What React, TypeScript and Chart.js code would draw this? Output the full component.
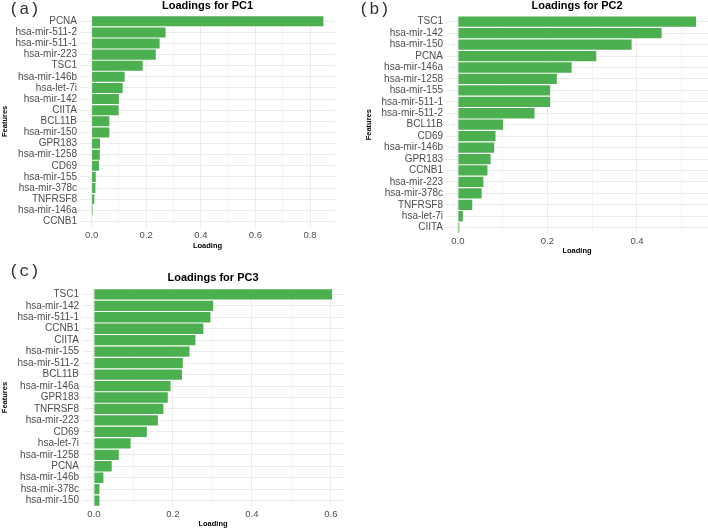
import React, { useEffect, useRef } from "react";
import { Chart, registerables } from "chart.js";

Chart.register(...registerables);
Chart.defaults.font.family = '"Liberation Sans", Arial, sans-serif';

const PC1_FEATURES = ["PCNA", "hsa-mir-511-2", "hsa-mir-511-1", "hsa-mir-223", "TSC1", "hsa-mir-146b", "hsa-let-7i", "hsa-mir-142", "CIITA", "BCL11B", "hsa-mir-150", "GPR183", "hsa-mir-1258", "CD69", "hsa-mir-155", "hsa-mir-378c", "TNFRSF8", "hsa-mir-146a", "CCNB1"];
const PC1_LOADINGS = [0.849, 0.271, 0.249, 0.235, 0.187, 0.121, 0.114, 0.1, 0.099, 0.065, 0.065, 0.031, 0.03, 0.027, 0.015, 0.014, 0.01, 0.004, 0.002];

const PC2_FEATURES = ["TSC1", "hsa-mir-142", "hsa-mir-150", "PCNA", "hsa-mir-146a", "hsa-mir-1258", "hsa-mir-155", "hsa-mir-511-1", "hsa-mir-511-2", "BCL11B", "CD69", "hsa-mir-146b", "GPR183", "CCNB1", "hsa-mir-223", "hsa-mir-378c", "TNFRSF8", "hsa-let-7i", "CIITA"];
const PC2_LOADINGS = [0.532, 0.455, 0.388, 0.309, 0.254, 0.221, 0.206, 0.206, 0.171, 0.101, 0.084, 0.081, 0.073, 0.066, 0.057, 0.053, 0.032, 0.011, 0.003];

const PC3_FEATURES = ["TSC1", "hsa-mir-142", "hsa-mir-511-1", "CCNB1", "CIITA", "hsa-mir-155", "hsa-mir-511-2", "BCL11B", "hsa-mir-146a", "GPR183", "TNFRSF8", "hsa-mir-223", "CD69", "hsa-let-7i", "hsa-mir-1258", "PCNA", "hsa-mir-146b", "hsa-mir-378c", "hsa-mir-150"];
const PC3_LOADINGS = [0.603, 0.302, 0.295, 0.277, 0.257, 0.242, 0.225, 0.223, 0.194, 0.187, 0.176, 0.162, 0.134, 0.093, 0.063, 0.045, 0.024, 0.014, 0.014];

const X_TICK_STEP = 0.1;
const X_LABEL_STEP = 0.2;

const isMajor = (v: number) => {
  const r = v / X_LABEL_STEP;
  return Math.abs(r - Math.round(r)) < 1e-6;
};

type PanelProps = {
  features: string[];
  loadings: number[];
  title: string;
  letter: string;
  left: number;
  top: number;
  width: number;
  height: number;
  yWidth: number;
  xHeight: number;
  padRight: number;
  titlePadTop: number;
  titlePadBottom: number;
  featuresPad: number;
  loadingPad: number;
  tickPad: number;
  letterLeft: number;
  letterTop: number;
};

function Panel(p: PanelProps) {
  const ref = useRef<HTMLCanvasElement | null>(null);
  useEffect(() => {
    if (!ref.current) return;
    const maxV = Math.max(...p.loadings);
    const chart = new Chart(ref.current, {
      type: "bar",
      data: {
        labels: p.features,
        datasets: [
          {
            data: p.loadings,
            backgroundColor: "#4caf50",
            borderWidth: 0,
            barPercentage: 0.9,
            categoryPercentage: 1,
          },
        ],
      },
      options: {
        indexAxis: "y",
        animation: false,
        responsive: true,
        maintainAspectRatio: false,
        layout: { padding: { left: 0, right: p.padRight, top: 0, bottom: 0 } },
        plugins: {
          legend: { display: false },
          tooltip: { enabled: false },
          title: {
            display: true,
            text: p.title,
            fullSize: false,
            color: "#000",
            font: { size: 11, weight: "bold", lineHeight: 1 },
            padding: { top: p.titlePadTop, bottom: p.titlePadBottom },
          },
        },
        scales: {
          x: {
            type: "linear",
            min: -0.05 * maxV,
            max: 1.05 * maxV,
            border: { display: false },
            grid: {
              color: (ctx: any) => (ctx.tick && isMajor(ctx.tick.value) ? "#ebebeb" : "#f5f5f5"),
              lineWidth: 1,
              drawTicks: false,
            },
            ticks: {
              stepSize: X_TICK_STEP,
              includeBounds: false,
              autoSkip: false,
              maxRotation: 0,
              color: "#4d4d4d",
              font: { size: 9.5 },
              padding: p.tickPad,
              callback: (v: any) => {
                const n = Number(v);
                if (!isMajor(n)) return "";
                return Math.abs(n) < 1e-9 ? "0.0" : n.toFixed(1);
              },
            },
            title: {
              display: true,
              text: "Loading",
              color: "#000",
              font: { size: 7.5, weight: "bold", lineHeight: 1.2 },
              padding: { top: 0, bottom: p.loadingPad },
            },
            afterFit: (s: any) => {
              s.height = p.xHeight;
            },
          },
          y: {
            type: "category",
            border: { display: false },
            grid: { offset: false, color: "#ebebeb", lineWidth: 1, drawTicks: false },
            ticks: { color: "#4d4d4d", font: { size: 10 }, padding: 3, autoSkip: false },
            title: {
              display: true,
              text: "Features",
              color: "#000",
              font: { size: 7.5, weight: "bold", lineHeight: 1.2 },
              padding: { top: p.featuresPad, bottom: 0 },
            },
            afterFit: (s: any) => {
              s.width = p.yWidth;
            },
          },
        },
      } as any,
    });
    return () => chart.destroy();
  }, []);
  return (
    <>
      <div
        style={{
          position: "absolute",
          left: p.left,
          top: p.top,
          width: p.width,
          height: p.height,
        }}
      >
        <canvas ref={ref} />
      </div>
      <div
        style={{
          position: "absolute",
          left: p.letterLeft,
          top: p.letterTop,
          fontFamily: '"Liberation Mono", "Courier New", monospace',
          fontSize: 17,
          lineHeight: "17px",
          color: "#333",
        }}
      >
        {p.letter}
      </div>
    </>
  );
}

export default function App() {
  return (
    <div
      style={{
        position: "fixed",
        left: 0,
        top: 0,
        width: 708,
        height: 532,
        background: "#fff",
        overflow: "hidden",
      }}
    >
      <Panel
        features={PC1_FEATURES}
        loadings={PC1_LOADINGS}
        title="Loadings for PC1"
        letter="(a)"
        left={0}
        top={0}
        width={354}
        height={252}
        yWidth={80}
        xHeight={25}
        padRight={19}
        titlePadTop={0}
        titlePadBottom={4.7}
        featuresPad={0.5}
        loadingPad={1.5}
        tickPad={3}
        letterLeft={9}
        letterTop={1}
      />
      <Panel
        features={PC2_FEATURES}
        loadings={PC2_LOADINGS}
        title="Loadings for PC2"
        letter="(b)"
        left={354}
        top={0}
        width={354}
        height={256}
        yWidth={92}
        xHeight={22.6}
        padRight={0}
        titlePadTop={0.5}
        titlePadBottom={4.5}
        featuresPad={10.5}
        loadingPad={1}
        tickPad={2.5}
        letterLeft={359}
        letterTop={1}
      />
      <Panel
        features={PC3_FEATURES}
        loadings={PC3_LOADINGS}
        title="Loadings for PC3"
        letter="(c)"
        left={0}
        top={255}
        width={354}
        height={277}
        yWidth={82}
        xHeight={25.6}
        padRight={10}
        titlePadTop={17.5}
        titlePadBottom={5.1}
        featuresPad={0.5}
        loadingPad={4}
        tickPad={2}
        letterLeft={9}
        letterTop={263}
      />
    </div>
  );
}
